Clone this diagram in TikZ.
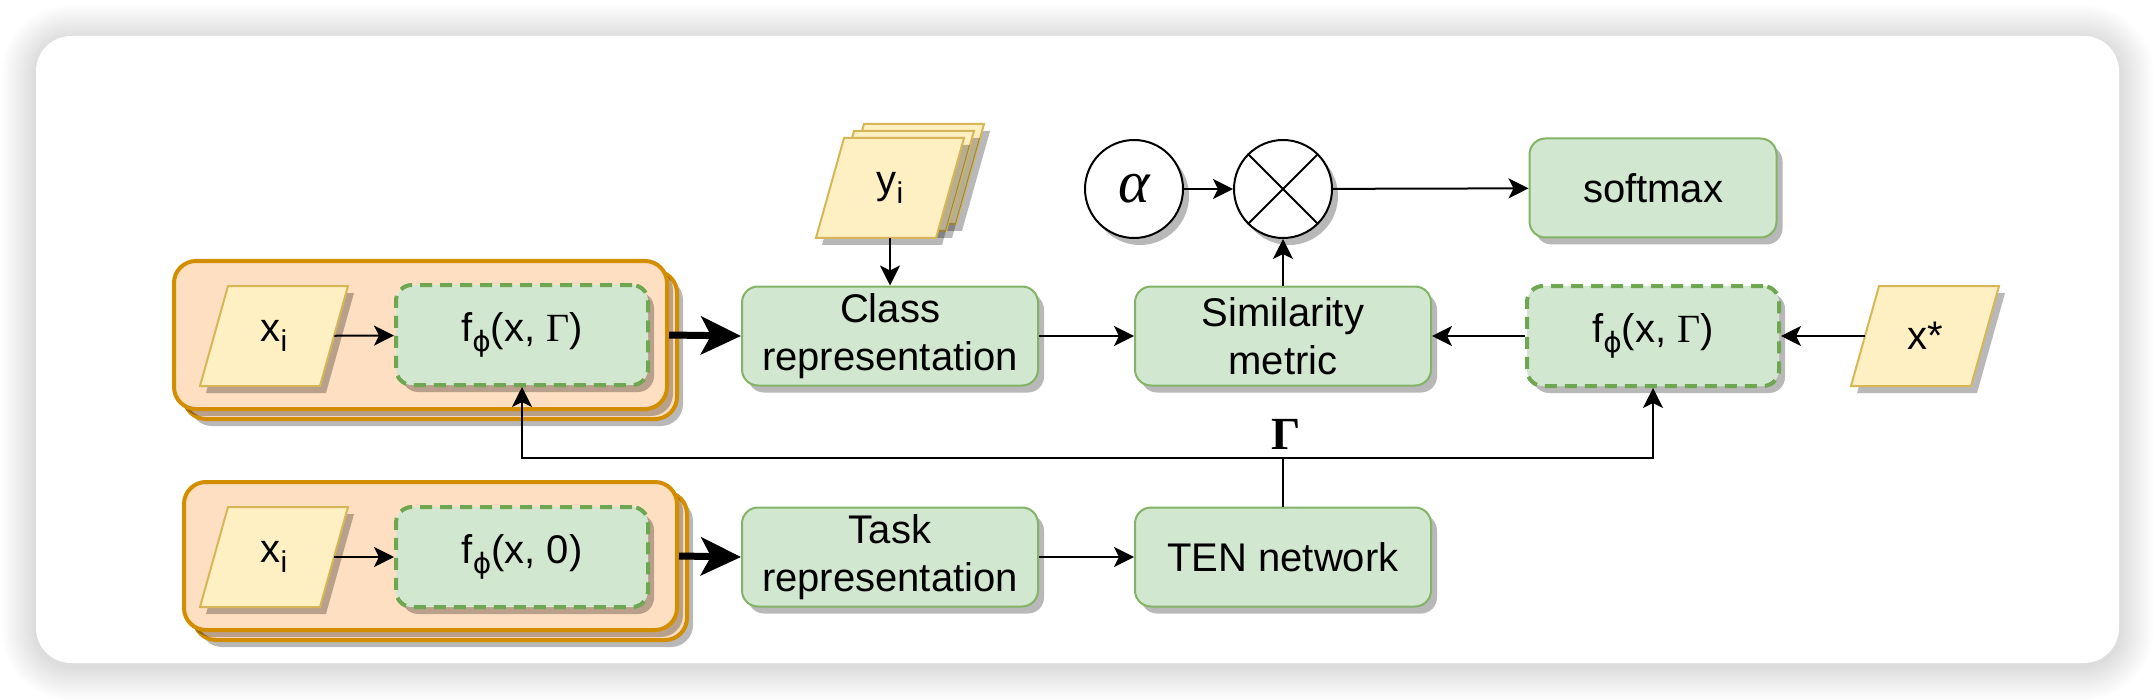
\documentclass[tikz,border=0pt]{standalone}
\usepackage{fontspec}
\setmainfont{Liberation Sans}
\newfontfamily\serifgr{Liberation Serif}
\newfontfamily\phifont{DejaVu Sans}
\usetikzlibrary{arrows.meta,shadows}
\definecolor{gfill}{HTML}{D2E7D0}
\definecolor{gline}{HTML}{82B366}
\definecolor{fline}{HTML}{6FA652}
\definecolor{yfill}{HTML}{FFF0C4}
\definecolor{yline}{HTML}{D6B656}
\definecolor{ofill}{HTML}{FFDFC2}
\definecolor{oline}{HTML}{D38E00}
\newcommand{\txt}{\fontsize{20pt}{24pt}\selectfont}
\newcommand{\sbs}[1]{\raisebox{-5pt}{\fontsize{15pt}{15pt}\selectfont #1}}
\newcommand{\phisub}{\raisebox{-5pt}{\fontsize{14pt}{14pt}\selectfont\phifont ϕ}}
\newcommand{\mypara}[4]{%
  \path[para, shift={(#2,#3)}] (-74,50) -- (-46,-50) -- (74,-50) -- (46,50) -- cycle;
  \node[font=\txt, minimum width=60pt, minimum height=50pt, inner sep=0pt] (#1) at (#2,#3) {#4};}
\begin{document}
\begin{tikzpicture}[x=0.5pt,y=-0.5pt,
  shd/.style={drop shadow={shadow xshift=3pt, shadow yshift=-3.5pt, fill=black, opacity=0.28}},
  para/.style={draw=yline, fill=yfill, line width=1pt, shd},
  gbox/.style={draw=gline, fill=gfill, line width=1pt, rounded corners=8pt,
    minimum width=148pt, minimum height=49.5pt, align=center, font=\txt, inner sep=0pt, shd},
  fbox/.style={gbox, draw=fline, line width=2pt, dash pattern=on 6pt off 4pt,
    minimum width=126pt, minimum height=50pt},
  cont/.style={draw=oline, fill=ofill, line width=2pt, rounded corners=11pt,
    minimum width=246.5pt, minimum height=74pt, shd},
  circ/.style={circle, draw=black, fill=white, line width=1pt, minimum size=49pt, inner sep=0pt, shd},
  arr/.style={line width=1pt, -{Stealth[length=10pt, width=10pt, inset=2.5pt]}},
  thk/.style={line width=3.5pt, -{Stealth[length=20pt, width=19pt, inset=5pt]}}
]
\useasboundingbox (0,0) rectangle (2156,700);
\fill[white] (0,0) rectangle (2156,700);
% outer frame with soft shadow
\foreach \k in {2,4,...,34}{
  \pgfmathsetmacro\rr{(35+\k)*0.5}
  \fill[black, opacity=0.0075, rounded corners=\rr pt] ({36-\k},{39-\k}) rectangle ({2119+\k},{666+\k});
}
\fill[white, rounded corners=17.5pt] (36,36) rectangle (2119,663);

% containers
\node[cont] (contAb) at (430.5,345) {};
\node[cont] (contA) at (420.5,335) {};
\node[cont] (contBb) at (440.5,566) {};
\node[cont] (contB) at (430.5,556) {};

% inputs and feature boxes
\mypara{xiA}{274}{336}{x\sbs{i}}
\mypara{xiB}{274}{557}{x\sbs{i}}
\node[fbox] (fA) at (522,335) {f\phisub(x, {\serifgr Γ})};
\node[fbox] (fB) at (522,557) {f\phisub(x, 0)};

% middle
\path[para, shift={(910,174)}] (-74,50) -- (-46,-50) -- (74,-50) -- (46,50) -- cycle;
\path[para, shift={(900,181)}] (-74,50) -- (-46,-50) -- (74,-50) -- (46,50) -- cycle;
\mypara{yi}{890}{188}{y\sbs{i}}
\node[gbox] (cls) at (890,336) {Class\\representation};
\node[gbox] (task) at (890,557) {Task\\representation};
\node[gbox] (sim) at (1283,336) {Similarity\\metric};
\node[gbox] (ten) at (1283,557) {TEN network};
\node[circ] (al) at (1134,189) {\fontsize{30pt}{30pt}\selectfont\serifgr\itshape α};
\node[circ] (ot) at (1283,189) {};
\draw[line width=1pt] (ot.45) -- (ot.225) (ot.135) -- (ot.315);
\node[gbox, minimum width=123.5pt] (sm) at (1653,188) {softmax};
\node[fbox] (fC) at (1653,336) {f\phisub(x, {\serifgr Γ})};
\mypara{xs}{1925}{336}{x*}

% connectors
\draw[arr] (xiA) -- (fA);
\draw[arr] (xiB) -- (fB);
\draw[thk] (contA.east) -- (cls.west);
\draw[thk] (contB.east) -- (task.west);
\draw[arr] (yi) -- (cls);
\draw[arr] (cls) -- (sim);
\draw[arr] (fC) -- (sim);
\draw[arr] (xs) -- (fC);
\draw[arr] (sim) -- (ot);
\draw[arr] (al) -- (ot);
\draw[arr] (ot) -- (sm);
\draw[arr] (task) -- (ten);
\coordinate (j) at (1283,458);
\draw[line width=1pt] (ten.north) -- (j);
\draw[arr] (j) -| (fA.south);
\draw[arr] (j) -| (fC.south);
\node[font=\fontsize{23pt}{23pt}\selectfont\serifgr\bfseries, anchor=south, inner sep=0pt] (glab) at (1286,450) {Γ};
\end{tikzpicture}
\end{document}
